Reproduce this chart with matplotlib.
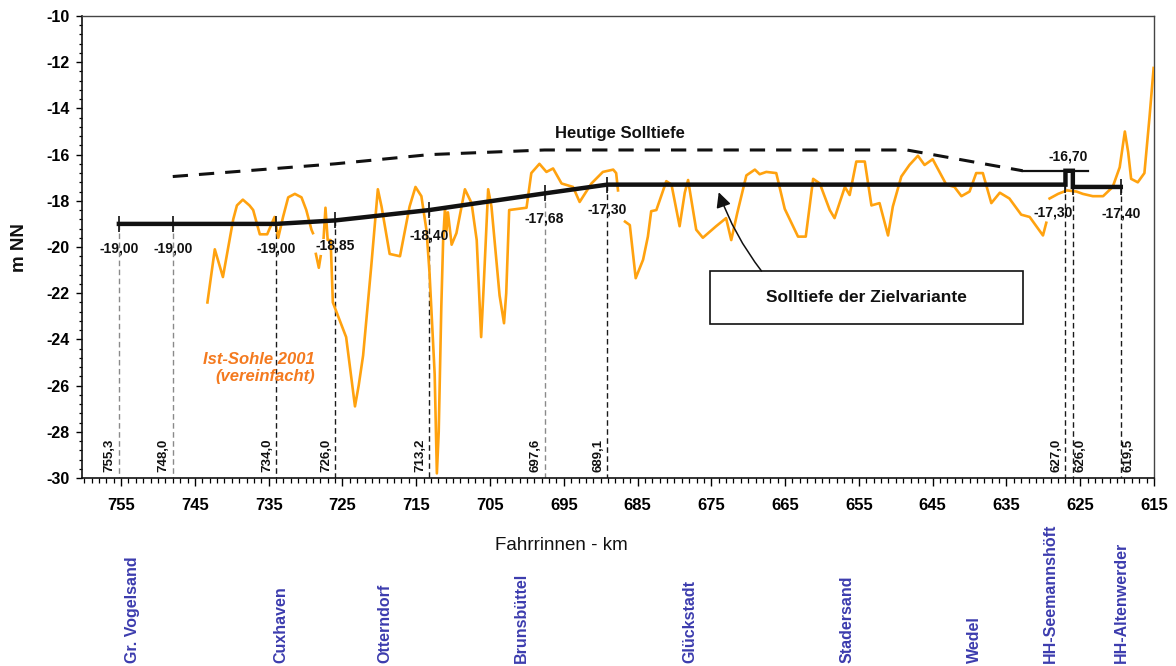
import numpy as np
import matplotlib
matplotlib.use("Agg")
import matplotlib.pyplot as plt
from matplotlib.patches import Rectangle
from matplotlib.transforms import blended_transform_factory

plt.rcParams['font.family'] = ['Liberation Sans', 'DejaVu Sans']
plt.rcParams['axes.unicode_minus'] = False

# --- Ist-Sohle 2001 (vereinfacht): Fahrrinnen-km, Tiefe m NN (NaN = Lücke) ---
sohle_km = [743.3, 742.3, 741.2, 739.8, 739.3, 738.5, 737.6, 737.1, 736.2, 735.2,
            734.2, 733.7, 733.05, 732.35, 731.45, 730.55, 729.9, 729.2, 729.0, np.nan,
            728.6, 728.2, 727.95, np.nan,
            727.55, 727.3, 727.0, 726.6, 726.3, 724.5, 723.3, 722.8, 722.2, 721.1,
            720.2, 719.7, 718.6, 717.2, 715.9, 715.1, 714.3, 713.6, 713.2, 712.5,
            712.2, 711.95, 711.6, 711.35, 711.1, 710.9, 710.7, 710.2, 709.55, 708.4,
            707.5, 706.8, 706.2, 705.9, 705.25, 704.8, 703.7, 703.1, 702.8, 702.4,
            700.05, 699.4, 698.3, 697.35, 696.45, 695.3, 693.75, 692.85, 691.25, 689.7,
            688.3, 687.9, 687.65, np.nan,
            686.7, 686.05, 685.25, 684.25, 683.6, 683.15, 682.45, 681.1, 680.4, 679.3,
            678.6, 678.15, 677.05, 676.15, 674.35, 673.0, 672.3, 671.5, 670.25, 669.1,
            668.45, 667.55, 666.2, 665.05, 663.25, 662.2, 661.2, 660.3, 658.95, 658.3,
            656.9, 656.25, 655.35, 654.2, 653.3, 652.2, 651.05, 650.4, 649.25, 648.15,
            647.0, 646.1, 645.0, 643.15, 642.05, 641.1, 640.0, 639.1, 638.2, 637.05,
            635.9, 634.6, 633.0, 631.85, 630.05, 629.6, np.nan,
            629.15, 628.0, 626.8, 625.5, 624.65, 623.3, 621.9, 620.6, 619.65, 618.95,
            618.5, 618.1, 617.2, 616.3, 615.6, 615.05]
sohle_m = [-22.4, -20.1, -21.3, -18.8, -18.2, -17.95, -18.2, -18.4, -19.45, -19.45,
           -18.7, -19.6, -18.7, -17.85, -17.7, -17.85, -18.4, -19.25, -19.4, np.nan,
           -20.3, -20.9, -20.4, np.nan,
           -19.6, -18.3, -19.7, -19.7, -22.4, -23.9, -26.9, -26.0, -24.7, -20.85,
           -17.5, -18.25, -20.3, -20.4, -18.25, -17.4, -17.8, -19.3, -21.1, -25.5,
           -29.8, -28.0, -22.6, -19.7, -18.3, -19.3, -18.5, -19.9, -19.4, -17.5,
           -18.1, -19.7, -23.9, -22.0, -17.5, -18.25, -22.1, -23.3, -22.0, -18.4,
           -18.3, -16.8, -16.4, -16.75, -16.6, -17.25, -17.4, -18.05, -17.25, -16.75,
           -16.65, -16.8, -17.55, np.nan,
           -18.9, -19.05, -21.35, -20.55, -19.55, -18.45, -18.4, -17.15, -17.3, -19.1,
           -17.65, -17.1, -19.25, -19.6, -19.1, -18.75, -19.7, -18.55, -16.9, -16.65,
           -16.85, -16.75, -16.8, -18.35, -19.55, -19.55, -17.05, -17.25, -18.4, -18.75,
           -17.4, -17.75, -16.3, -16.3, -18.2, -18.1, -19.5, -18.25, -16.95, -16.45,
           -16.05, -16.45, -16.2, -17.3, -17.4, -17.8, -17.6, -16.8, -16.8, -18.1,
           -17.65, -17.9, -18.6, -18.7, -19.5, -18.95, np.nan,
           -17.9, -17.7, -17.55, -17.6, -17.7, -17.8, -17.8, -17.4, -16.55, -15.0,
           -15.9, -17.05, -17.2, -16.8, -14.35, -12.25]

# --- Heutige Solltiefe ---
heute_km = [748.0, 734.0, 726.0, 713.2, 697.6, 648.5, 632.8]
heute_m = [-16.95, -16.60, -16.40, -16.00, -15.80, -15.80, -16.70]
heute_end_km = [632.8, 624.0]
heute_end_m = [-16.70, -16.70]

# --- Solltiefe der Zielvariante ---
ziel_km = [755.3, 748.0, 734.0, 726.0, 713.2, 697.6, 689.1, 627.0, 627.0, 626.0, 626.0, 619.5]
ziel_m = [-19.00, -19.00, -19.00, -18.85, -18.40, -17.68, -17.30, -17.30, -16.70, -16.70, -17.40, -17.40]

# Stationen mit Hilfslinien
station_km = [755.3, 748.0, 734.0, 726.0, 713.2, 697.6, 689.1, 627.0, 626.0, 619.5]
station_m = [-19.00, -19.00, -19.00, -18.85, -18.40, -17.68, -17.30, -17.30, -17.40, -17.40]

# Orte entlang der Elbe
orte = ["Gr. Vogelsand", "Cuxhaven", "Otterndorf", "Brunsbüttel", "Glückstadt",
        "Stadersand", "Wedel", "HH-Seemannshöft", "HH-Altenwerder"]
orte_km = [753.5, 733.4, 719.3, 700.7, 677.9, 656.6, 639.3, 629.1, 619.4]

x_ticks = [755, 745, 735, 725, 715, 705, 695, 685, 675, 665, 655, 645, 635, 625, 615]
y_ticks = [-30, -28, -26, -24, -22, -20, -18, -16, -14, -12, -10]


def de(v, nd):
    return f"{v:.{nd}f}".replace(".", ",")


fig = plt.figure(figsize=(11.76, 6.66), dpi=100)
ax = fig.add_axes([82 / 1176, 1 - 478 / 666, 1072 / 1176, 462 / 666])
ax.set_xlim(760.3, 615.0)
ax.set_ylim(-30, -10)

orange = '#ffa20f'
dark = '#111111'

# Hilfslinien von der Solltiefe bis zur Achse
grey_stations = {755.3, 748.0, 697.6}
for km, m in zip(station_km, station_m):
    col = '#8a8a8a' if km in grey_stations else '#1a1a1a'
    ax.plot([km, km], [m, -30], color=col, lw=1.0, ls=(0, (4, 2.5)), zorder=1)

# Ist-Sohle
ax.plot(sohle_km, sohle_m, color=orange, lw=1.9, zorder=3, solid_joinstyle='round')

# Heutige Solltiefe
ax.plot(heute_km, heute_m, color=dark, lw=2.2, dashes=(5, 3.6), zorder=4)
ax.plot(heute_end_km, heute_end_m, color=dark, lw=1.6, zorder=4)

# Zielvariante
ax.plot(ziel_km, ziel_m, color=dark, lw=3.2, zorder=5, solid_joinstyle='miter')
ax.plot(station_km, station_m, ls='none', marker='|', ms=11, mew=1.2, color=dark, zorder=6)

# Werte an den Stationen
lab_font = dict(fontsize=10, fontweight='bold', color=dark, ha='center', va='center')
for km, m in zip(station_km[:7], station_m[:7]):
    ax.annotate(de(m, 2), (km, m), xytext=(0, -18), textcoords='offset points', **lab_font)
ax.annotate(de(station_m[7], 2), (station_km[7], station_m[7]), xytext=(-9, -20),
            textcoords='offset points', **lab_font)
ax.annotate(de(station_m[9], 2), (station_km[9], station_m[9]), xytext=(0, -19),
            textcoords='offset points', **lab_font)
ax.annotate(de(ziel_m[8], 2), ((ziel_km[8] + ziel_km[9]) / 2, ziel_m[8]), xytext=(-1, 10),
            textcoords='offset points', **lab_font)

# Kilometerangaben an den Hilfslinien
for km in station_km:
    right = km in (626.0, 619.5)
    ax.annotate(de(km, 1), (km, -30), xytext=(5.5 if right else -6.5, 4),
                textcoords='offset points', rotation=90, fontsize=9.5, fontweight='bold',
                ha='center', va='bottom', color=dark)

# Beschriftungen im Diagramm
ax.text(687.4, -15.07, "Heutige Solltiefe", fontsize=12, fontweight='bold',
        ha='center', va='center', color=dark)
ax.text(728.7, -25.24, "Ist-Sohle 2001\n(vereinfacht)", fontsize=12, fontweight='bold',
        fontstyle='italic', color='#f47a1f', ha='right', va='center', linespacing=1.1)

ax.add_patch(Rectangle((675.2, -23.33), 632.8 - 675.2, 2.29, fill=False,
                       ec=dark, lw=1.2, zorder=6))
ax.text(654.0, -22.2, "Solltiefe der Zielvariante", fontsize=12.5, fontweight='bold',
        ha='center', va='center', color=dark, zorder=7)
ax.annotate("", xy=(674.0, -17.63), xytext=(668.2, -21.04),
            arrowprops=dict(arrowstyle='-|>,head_length=0.9,head_width=0.45',
                            color=dark, lw=1.1, shrinkA=0, shrinkB=0,
                            connectionstyle='arc3,rad=-0.08'), zorder=7)

# Achsen
ax.set_xticks(x_ticks)
ax.set_xticklabels([str(t) for t in x_ticks])
ax.set_xticks(np.arange(760, 614, -1), minor=True)
ax.set_yticks(y_ticks)
ax.set_yticklabels([str(t) for t in y_ticks])
ax.set_yticks(np.arange(-30, -9.9, 0.4), minor=True)

ax.tick_params(axis='x', which='major', direction='out', length=5.5, width=1.0,
               pad=9, labelsize=12)
ax.tick_params(axis='x', which='minor', direction='out', length=3.5, width=0.9)
ax.tick_params(axis='y', which='major', direction='out', length=4, width=1.0,
               pad=5, labelsize=11.5)
ax.tick_params(axis='y', which='minor', direction='out', length=2.5, width=0.9)
for lbl in ax.get_xticklabels() + ax.get_yticklabels():
    lbl.set_fontweight('bold')

for s in ['left', 'bottom']:
    ax.spines[s].set_color('#111111')
    ax.spines[s].set_linewidth(1.2)
for s in ['top', 'right']:
    ax.spines[s].set_color('#444444')
    ax.spines[s].set_linewidth(1.0)

fig.text(561 / 1176, 1 - 546 / 666, "Fahrrinnen - km", fontsize=13.5,
         ha='center', va='center', color=dark)
fig.text(20 / 1176, 1 - 248 / 666, "m NN", fontsize=13.5, fontweight='bold',
         rotation=90, ha='center', va='center', color=dark)

# Ortsnamen unterhalb der Achse
trans = blended_transform_factory(ax.transData, fig.transFigure)
for name, km in zip(orte, orte_km):
    ax.text(km, 3 / 666, name, transform=trans, rotation=90, fontsize=11.5,
            fontweight='bold', color='#3c3cae', ha='center', va='bottom', clip_on=False)

fig.savefig("out.png", dpi=100, facecolor='white')
